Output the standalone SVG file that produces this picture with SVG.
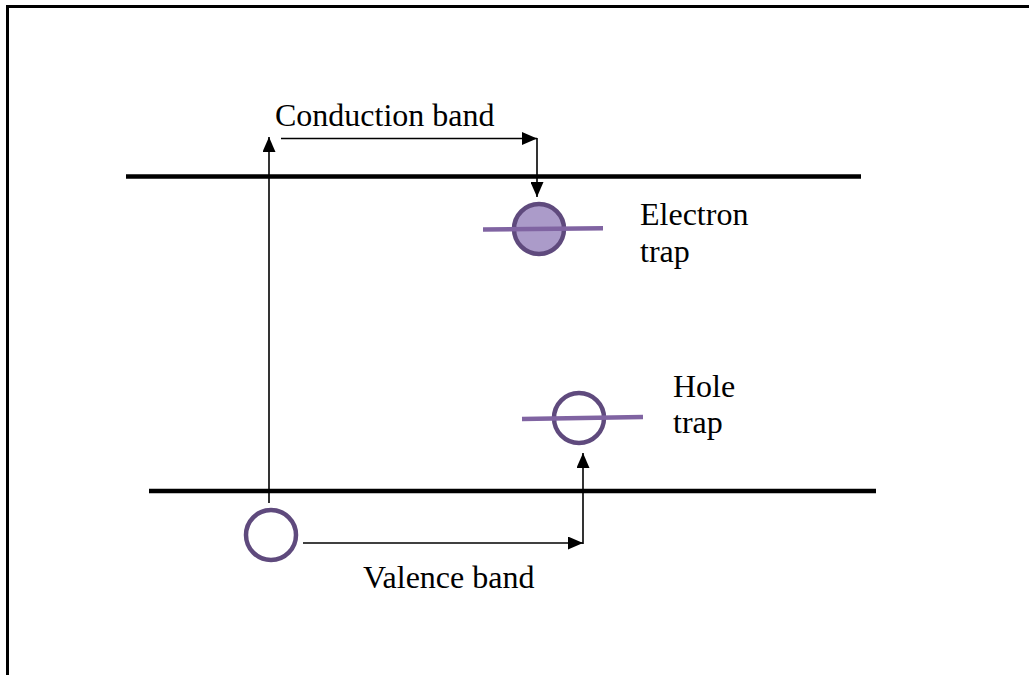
<svg xmlns="http://www.w3.org/2000/svg" width="1029" height="675" viewBox="0 0 1029 675">
<style>
.lbl{font-family:"Liberation Serif","Times New Roman",serif;font-size:32px;fill:#000}
.band{stroke:#000;stroke-width:4.5;fill:none}
.conn{stroke:#000;stroke-width:1.6;fill:none}
.lvl{stroke:#8064a2;stroke-width:4.5;fill:none}
.trap{stroke:#5f4a7d;stroke-width:4.5}
</style>
<defs>
<marker id="ah" markerWidth="15" markerHeight="13" refX="15" refY="6.5" orient="auto" markerUnits="userSpaceOnUse">
<path d="M0,0 L15,6.5 L0,13 Z" fill="#000"/>
</marker>
</defs>
<rect width="1029" height="675" fill="#fff"/>
<path d="M7.5,675 V6.5 H1029" stroke="#000" stroke-width="3" fill="none"/>
<g id="conduction-band">
<line class="band" x1="126" y1="176.5" x2="861" y2="176.5"/>
<text class="lbl" x="275" y="126">Conduction band</text>
</g>
<g id="valence-band">
<line class="band" x1="149" y1="491" x2="876" y2="491"/>
<text class="lbl" x="363" y="588">Valence band</text>
</g>
<g id="electron-trap">
<circle class="trap" cx="539" cy="229" r="25" fill="#ab9bc9"/>
<line class="lvl" x1="483" y1="229.5" x2="603" y2="228.3"/>
<text class="lbl" x="640" y="225">Electron</text>
<text class="lbl" x="640" y="262">trap</text>
</g>
<g id="hole-trap">
<circle class="trap" cx="579" cy="418" r="25" fill="none"/>
<line class="lvl" x1="522" y1="419" x2="643" y2="417"/>
<text class="lbl" x="673" y="397">Hole</text>
<text class="lbl" x="673" y="433">trap</text>
</g>
<g id="hole">
<circle class="trap" cx="271" cy="535" r="25" fill="none"/>
</g>
<g id="connectors">
<line class="conn" x1="269" y1="503" x2="269" y2="137" marker-end="url(#ah)"/>
<line class="conn" x1="281" y1="138.5" x2="537" y2="138.5" marker-end="url(#ah)"/>
<line class="conn" x1="537" y1="138" x2="537" y2="197" marker-end="url(#ah)"/>
<line class="conn" x1="303" y1="543" x2="583" y2="543" marker-end="url(#ah)"/>
<line class="conn" x1="583" y1="544" x2="583" y2="453" marker-end="url(#ah)"/>
</g>
</svg>
